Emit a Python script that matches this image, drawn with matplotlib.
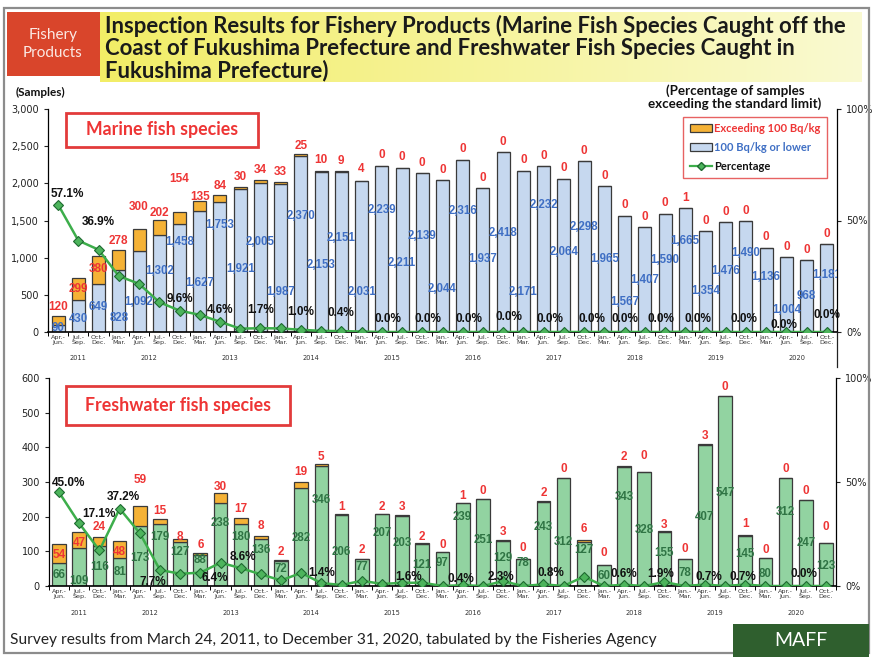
import numpy as np
import matplotlib
matplotlib.use("Agg")
import matplotlib.pyplot as plt
from matplotlib.patches import Rectangle, Patch
from matplotlib.lines import Line2D
from matplotlib.ticker import FuncFormatter
import matplotlib.transforms as mtransforms

# ------------------------ data ------------------------

quarters = ["Apr.-\nJun.", "Jul.-\nSep.", "Oct.-\nDec."] + \
           ["Jan.-\nMar.", "Apr.-\nJun.", "Jul.-\nSep.", "Oct.-\nDec."] * 9
years = ["2011", "2012", "2013", "2014", "2015", "2016", "2017", "2018", "2019", "2020"]

# marine fish (off the coast of Fukushima)
marine_low = [90, 430, 649, 828, 1092, 1302, 1458, 1627, 1753, 1921,
              2005, 1987, 2370, 2153, 2151, 2031, 2239, 2211, 2139, 2044,
              2316, 1937, 2418, 2171, 2232, 2064, 2298, 1965, 1567, 1407,
              1590, 1665, 1354, 1476, 1490, 1136, 1004, 968, 1181]
marine_exc = [120, 299, 380, 278, 300, 202, 154, 135, 84, 30,
              34, 33, 25, 10, 9, 4, 0, 0, 0, 0,
              0, 0, 0, 0, 0, 0, 0, 0, 0, 0,
              0, 1, 0, 0, 0, 0, 0, 0, 0]
marine_pct = [57.1, 41.0, 36.9, 25.1, 21.6, 13.4, 9.6, 7.7, 4.6, 1.5,
              1.7, 1.6, 1.0, 0.5, 0.4, 0.2, 0.0, 0.0, 0.0, 0.0,
              0.0, 0.0, 0.0, 0.0, 0.0, 0.0, 0.0, 0.0, 0.0, 0.0,
              0.0, 0.1, 0.0, 0.0, 0.0, 0.0, 0.0, 0.0, 0.0]

# freshwater fish (Fukushima Prefecture)
fresh_low = [66, 109, 116, 81, 173, 179, 127, 88, 238, 180,
             136, 72, 282, 346, 206, 77, 207, 203, 121, 97,
             239, 251, 129, 78, 243, 312, 127, 60, 343, 328,
             155, 78, 407, 547, 145, 80, 312, 247, 123]
fresh_exc = [54, 47, 24, 48, 59, 15, 8, 6, 30, 17,
             8, 2, 19, 5, 1, 2, 2, 3, 2, 0,
             1, 0, 3, 0, 2, 0, 6, 0, 2, 0,
             3, 0, 3, 0, 1, 0, 0, 0, 0]
fresh_pct = [45.0, 30.1, 17.1, 37.2, 25.4, 7.7, 5.9, 6.4, 11.2, 8.6,
             5.6, 2.7, 6.3, 1.4, 0.5, 2.5, 1.0, 1.5, 1.6, 0.0,
             0.4, 0.0, 2.3, 0.0, 0.8, 0.0, 4.5, 0.0, 0.6, 0.0,
             1.9, 0.0, 0.7, 0.0, 0.7, 0.0, 0.0, 0.0, 0.0]

# ------------------------ label placement (as in the original) ------------------------

marine_low_lbl_y = [60, 175, 341, 184, 408, 825, 1215, 663, 1439, 843,
                    1206, 542, 1560, 901, 1260, 542, 1641, 924, 1291, 574,
                    1627, 977, 1336, 542, 1708, 1080, 1417, 977, 408, 700,
                    968, 1228, 556, 825, 1058, 744, 296, 484, 767]
marine_exc_lbl_y = [341, 578, 845, 1228, 1686, 1600, 2058, 1820, 1964, 2085,
                    2178, 2156, 2502, 2313, 2304, 2188, 2380, 2351, 2279, 2184,
                    2456, 2077, 2558, 2311, 2372, 2204, 2438, 2105, 1707, 1547,
                    1730, 1806, 1494, 1616, 1630, 1276, 1144, 1108, 1321]
# (index, x shift, y on the % axis)
marine_pct_lbl = [(0, 0.45, 61.9), (2, 0.0, 49.5), (6, 0.0, 14.7), (8, 0.0, 9.9),
                  (10, 0.0, 9.9), (12, 0.0, 8.8), (14, 0.0, 8.5), (16, 0.3, 5.8),
                  (18, 0.3, 5.8), (20, 0.3, 5.8), (22, 0.3, 6.9), (24, 0.3, 5.8),
                  (26, 0.4, 5.8), (28, 0.0, 5.8), (30, -0.2, 5.8), (32, -0.35, 5.8),
                  (34, -0.1, 5.8), (36, -0.1, 3.1), (38, 0.0, 7.6)]

fresh_low_lbl_y = [32, 15, 56, 41, 80, 142, 99, 75, 181, 142,
                   104, 48, 138, 248, 99, 54, 152, 125, 61, 66,
                   200, 133, 80, 66, 169, 128, 104, 29, 256, 162,
                   96, 38, 200, 269, 92, 35, 214, 123, 58]
fresh_exc_lbl_y = [89, 123, 171, 99, 306, 217, 140, 118, 285, 221,
                   173, 99, 330, 371, 229, 104, 229, 229, 142, 118,
                   260, 275, 157, 109, 269, 337, 164, 94, 371, 375,
                   176, 106, 433, 573, 179, 103, 337, 275, 171]
fresh_pct_lbl = [(0, 0.45, 49.4), (2, -0.05, 34.6), (3, 0.2, 42.9), (5, -0.35, 2.1),
                 (7, 0.7, 3.7), (9, 0.1, 13.8), (13, 0.0, 6.1), (18, -0.7, 4.2),
                 (20, -0.1, 3.2), (22, -0.1, 4.2), (24, 0.35, 6.1), (28, 0.0, 5.8),
                 (30, -0.2, 5.8), (32, 0.2, 4.2), (34, -0.1, 4.2), (37, -0.1, 5.8)]

# ------------------------ styles ------------------------

W, H = 873, 657
RED = "#EE3535"
BLUE_TXT = "#3F6FC4"
GREEN_TXT = "#2F7444"
ORANGE = "#F5B236"
BLUE_BAR = "#C6D8EF"
GREEN_BAR = "#92D3A1"
LINE_G = "#3DAE4B"
EDGE = "#3A3A3A"
LBL_FONT = ["Liberation Sans", "DejaVu Sans"]
TTL_FONT = ["Lato", "DejaVu Sans"]


def fx(x):
    return x / W


def fy(y):
    return 1 - y / H


def px_rect(x0, y0, x1, y1, **kw):
    return Rectangle((fx(x0), fy(y1)), (x1 - x0) / W, (y1 - y0) / H,
                     transform=fig.transFigure, **kw)


def draw_panel(ax, low, exc, pct, low_y, exc_y, pct_lbl, bar_color, low_color,
               ymax, ystep, width):
    x = np.arange(len(low))
    low = np.array(low)
    exc = np.array(exc)
    ax.bar(x, low, width=width, color=bar_color, edgecolor=EDGE, linewidth=0.9, zorder=2)
    ax.bar(x, exc, bottom=low, width=width, color=ORANGE, edgecolor=EDGE,
           linewidth=0.9, zorder=2)
    ax.set_xlim(-0.5, len(low) - 0.5)
    ax.set_ylim(0, ymax)
    ax.set_yticks(np.arange(0, ymax + 1, ystep))
    ax.yaxis.set_major_formatter(FuncFormatter(lambda v, p: f"{int(v):,}"))
    ax.tick_params(axis="y", labelsize=7, length=3, width=0.8, colors="#222")
    ax.set_xticks(x)
    ax.set_xticklabels(quarters, fontsize=4.6, linespacing=0.95, color="#333")
    ax.set_xticks(np.arange(-0.5, len(low), 1), minor=True)
    ax.tick_params(axis="x", which="major", length=0, pad=2)
    ax.tick_params(axis="x", which="minor", length=3, width=0.7)
    for s in ("top", "right"):
        ax.spines[s].set_visible(False)
    ax.spines["left"].set_linewidth(0.9)
    ax.spines["bottom"].set_linewidth(1.2)
    ax.patch.set_visible(False)

    ax2 = ax.twinx()
    ax2.set_ylim(0, 100)
    ax2.set_yticks([0, 50, 100])
    ax2.set_yticklabels(["0%", "50%", "100%"])
    ax2.tick_params(axis="y", labelsize=7, length=3, width=0.8, colors="#222")
    ax2.spines["top"].set_visible(False)
    ax2.spines["left"].set_visible(False)
    ax2.spines["bottom"].set_visible(False)
    ax2.spines["right"].set_linewidth(0.9)
    ax2.plot(x, pct, color=LINE_G, linewidth=1.8, marker="D", markersize=5.5,
             markerfacecolor="#4DB45C", markeredgecolor="#1E6A30",
             markeredgewidth=0.8, zorder=3)

    # value labels (count axis)
    for i in range(len(low)):
        ax2.text(i, low_y[i], f"{low[i]:,}", transform=ax.transData, ha="center",
                 va="center", fontsize=8.3, fontweight="bold", color=low_color,
                 family=LBL_FONT, zorder=4, clip_on=True)
        ax2.text(i, exc_y[i], f"{exc[i]:,}", transform=ax.transData, ha="center",
                 va="center", fontsize=8.5, fontweight="bold", color=RED,
                 family=LBL_FONT, zorder=4, clip_on=True)
    for i, dx, yv in pct_lbl:
        ax2.text(i + dx, yv, f"{pct[i]:.1f}%", ha="center", va="center",
                 fontsize=8.5, fontweight="bold", color="#111", family=LBL_FONT,
                 zorder=5)
    return ax2


fig = plt.figure(figsize=(W / 100, H / 100), dpi=100)
fig.patch.set_facecolor("white")

# ------------------------ header ------------------------
fig.add_artist(px_rect(4, 8, 869, 653, facecolor="none", edgecolor="#8C8C8C",
                       linewidth=1.6))
hdr = fig.add_axes([fx(100), fy(82), (862 - 100) / W, (82 - 12) / H])
grad = np.linspace(0, 1, 256)
c0 = np.array([0.95, 0.93, 0.40])
c1 = np.array([0.98, 0.98, 0.82])
img = c0[None, None, :] * (1 - grad[None, :, None]) + c1[None, None, :] * grad[None, :, None]
hdr.imshow(img, aspect="auto", extent=[0, 1, 0, 1])
hdr.set_axis_off()
fig.add_artist(px_rect(7, 12, 100, 76, facecolor="#D9452B", edgecolor="none"))
fig.text(fx(53), fy(44), "Fishery\nProducts", ha="center", va="center", fontsize=11,
         color="#FBE9E4", family=TTL_FONT, linespacing=1.35)
fig.text(fx(105), fy(48), "Inspection Results for Fishery Products (Marine Fish Species Caught off the\n"
         "Coast of Fukushima Prefecture and Freshwater Fish Species Caught in\n"
         "Fukushima Prefecture)", ha="left", va="center", fontsize=15.9,
         fontweight="bold", color="#1A1A1A", family=TTL_FONT, linespacing=1.04)

# ------------------------ marine panel ------------------------
ax_m = fig.add_axes([fx(48), fy(332), (837 - 48) / W, (332 - 109) / H])
ax_m2 = draw_panel(ax_m, marine_low, marine_exc, marine_pct, marine_low_lbl_y,
                   marine_exc_lbl_y, marine_pct_lbl, BLUE_BAR, BLUE_TXT,
                   3000, 500, 0.64)
year_pos = [1] + [4.5 + 4 * k for k in range(9)]
trans_m = mtransforms.blended_transform_factory(ax_m.transData, ax_m.transAxes)
for yp, yr in zip(year_pos, years):
    ax_m.text(yp, -0.118, yr, transform=trans_m, ha="center", va="center",
              fontsize=4.8, color="#333")
# right axis line runs down past the plot, as in the original
fig.add_artist(Line2D([fx(837), fx(837)], [fy(332), fy(367)], color="#222",
                      linewidth=0.9, transform=fig.transFigure))

fig.text(fx(16), fy(92), "(Samples)", ha="left", va="center", fontsize=8.5,
         fontweight="bold", family=TTL_FONT, color="#111")
fig.text(fx(735), fy(97), "(Percentage of samples\nexceeding the standard limit)",
         ha="center", va="center", fontsize=9.6, fontweight="bold", family=TTL_FONT,
         color="#111", linespacing=0.98)

fig.add_artist(px_rect(66, 113, 258, 147, facecolor="white", edgecolor="#E23B3B",
                       linewidth=2))
fig.text(fx(162), fy(130), "Marine fish species", ha="center", va="center",
         fontsize=12.8, fontweight="bold", color=RED, family=TTL_FONT)

handles = [Patch(facecolor=ORANGE, edgecolor=EDGE, linewidth=0.9),
           Patch(facecolor=BLUE_BAR, edgecolor=EDGE, linewidth=0.9),
           Line2D([0], [0], color=LINE_G, linewidth=1.6, marker="D", markersize=4,
                  markerfacecolor="#4DB45C", markeredgecolor="#1E6A30")]
leg = ax_m2.legend(handles, ["Exceeding 100 Bq/kg", "100 Bq/kg or lower", "Percentage"],
                   loc="upper right", bbox_to_anchor=(fx(833), fy(111)),
                   bbox_transform=fig.transFigure, frameon=True,
                   fancybox=False, edgecolor="#E23B3B", handlelength=2.0,
                   handleheight=0.7, labelspacing=0.7, borderpad=0.6,
                   handletextpad=0.2, labelcolor=[RED, BLUE_TXT, "#111"],
                   prop={"family": TTL_FONT, "weight": "bold", "size": 8.0})
leg.get_frame().set_linewidth(1.0)

# ------------------------ freshwater panel ------------------------
ax_f = fig.add_axes([fx(49), fy(586), (836 - 49) / W, (586 - 378) / H])
draw_panel(ax_f, fresh_low, fresh_exc, fresh_pct, fresh_low_lbl_y, fresh_exc_lbl_y,
           fresh_pct_lbl, GREEN_BAR, GREEN_TXT, 600, 100, 0.68)
trans_f = mtransforms.blended_transform_factory(ax_f.transData, ax_f.transAxes)
for yp, yr in zip(year_pos, years):
    ax_f.text(yp, -0.13, yr, transform=trans_f, ha="center", va="center",
              fontsize=4.8, color="#333")

fig.add_artist(px_rect(66, 386, 290, 425, facecolor="white", edgecolor="#E23B3B",
                       linewidth=2))
fig.text(fx(178), fy(406), "Freshwater fish species", ha="center", va="center",
         fontsize=12.8, fontweight="bold", color=RED, family=TTL_FONT)

# ------------------------ footer ------------------------
fig.text(fx(10), fy(640), "Survey results from March 24, 2011, to December 31, 2020, "
         "tabulated by the Fisheries Agency", ha="left", va="center", fontsize=11.2,
         color="#222", family=TTL_FONT)
fig.add_artist(px_rect(733, 624, 869, 657, facecolor="#2F5F2E", edgecolor="none"))
fig.text(fx(801), fy(641), "MAFF", ha="center", va="center", fontsize=14,
         color="white", family=TTL_FONT)

fig.savefig("out.png", dpi=100)
